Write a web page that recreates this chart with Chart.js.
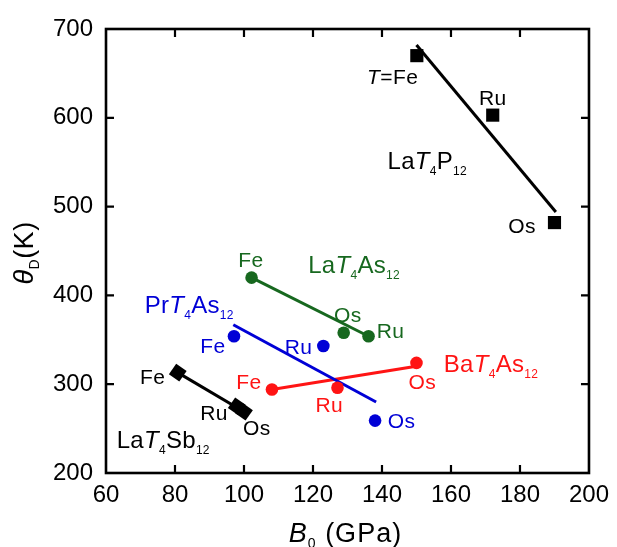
<!DOCTYPE html>
<html><head><meta charset="utf-8">
<script src="https://cdn.jsdelivr.net/npm/chart.js@4.4.0/dist/chart.umd.min.js"></script>
<style>html,body{margin:0;padding:0;background:#fff;}#wrap{width:617px;height:547px;}</style>
</head><body><div id="wrap"><canvas id="c" width="617" height="547"></canvas></div>
<script>
// ---- data ----
const xTickValues = [60, 80, 100, 120, 140, 160, 180, 200];
const yTickValues = [200, 300, 400, 500, 600, 700];

// LaT4P12 (T = Fe, Ru, Os)
const laP_B = [150.1, 172.1, 190.0];
const laP_T = [670, 603, 482];
const laP_fitB = [150.0, 190.4];
const laP_fitT = [682, 494];

// LaT4As12 (Fe, Os, Ru)
const laAs_B = [102.2, 128.9, 136.1];
const laAs_T = [420, 358, 354];
const laAs_fitB = [102.2, 136.1];
const laAs_fitT = [420, 354];

// PrT4As12 (Fe, Ru, Os)
const prAs_B = [97.1, 123.0, 138.0];
const prAs_T = [354, 343, 259];
const prAs_fitB = [96.9, 138.3];
const prAs_fitT = [367, 280];

// BaT4As12 (Fe, Ru, Os)
const baAs_B = [108.1, 127.1, 150.0];
const baAs_T = [294, 296, 324];
const baAs_fitB = [108.1, 149.5];
const baAs_fitT = [294, 320];

// LaT4Sb12 (Fe, Ru, Os)
const laSb_B = [80.8, 97.9, 100.0];
const laSb_T = [313, 275, 269];
const laSb_fitB = [80.8, 100.0];
const laSb_fitT = [313, 269];

const BLACK = '#000000', GREEN = '#17681f', BLUE = '#0000d6', RED = '#ff1414';

const pts = (bx, ty) => bx.map((b, i) => ({x: b, y: ty[i]}));

// ---- annotation labels (anchored in data units) ----
const annotations = [
  {segs: [['T', 'i'], ['=Fe']], x: 143.1, y: 646, color: BLACK, size: 21, align: 'center'},
  {segs: [['Ru']], x: 172.1, y: 623, color: BLACK, size: 21, align: 'center'},
  {segs: [['Os']], x: 180.6, y: 479, color: BLACK, size: 21, align: 'center'},
  {segs: [['La'], ['T', 'i'], ['4', 's'], ['P'], ['12', 's']], x: 141.6, y: 552, color: BLACK, size: 24, align: 'left'},

  {segs: [['Fe']], x: 102.0, y: 441, color: GREEN, size: 21, align: 'center'},
  {segs: [['Os']], x: 130.1, y: 378, color: GREEN, size: 21, align: 'center'},
  {segs: [['Ru']], x: 142.5, y: 360, color: GREEN, size: 21, align: 'center'},
  {segs: [['La'], ['T', 'i'], ['4', 's'], ['As'], ['12', 's']], x: 118.6, y: 434.6, color: GREEN, size: 24, align: 'left'},

  {segs: [['Fe']], x: 91.0, y: 344, color: BLUE, size: 21, align: 'center'},
  {segs: [['Ru']], x: 115.8, y: 343, color: BLUE, size: 21, align: 'center'},
  {segs: [['Os']], x: 145.7, y: 259.7, color: BLUE, size: 21, align: 'center'},
  {segs: [['Pr'], ['T', 'i'], ['4', 's'], ['As'], ['12', 's']], x: 71.2, y: 389.6, color: BLUE, size: 24, align: 'left'},

  {segs: [['Fe']], x: 101.4, y: 302.5, color: RED, size: 21, align: 'center'},
  {segs: [['Ru']], x: 124.7, y: 276.6, color: RED, size: 21, align: 'center'},
  {segs: [['Os']], x: 151.7, y: 302.5, color: RED, size: 21, align: 'center'},
  {segs: [['Ba'], ['T', 'i'], ['4', 's'], ['As'], ['12', 's']], x: 157.9, y: 323.5, color: RED, size: 24, align: 'left'},

  {segs: [['Fe']], x: 73.5, y: 309.2, color: BLACK, size: 21, align: 'center'},
  {segs: [['Ru']], x: 91.3, y: 268.7, color: BLACK, size: 21, align: 'center'},
  {segs: [['Os']], x: 103.7, y: 250.7, color: BLACK, size: 21, align: 'center'},
  {segs: [['La'], ['T', 'i'], ['4', 's'], ['Sb'], ['12', 's']], x: 63.1, y: 237.5, color: BLACK, size: 24, align: 'left'}
];

const FAM = "'Liberation Sans', Arial, Helvetica, sans-serif";

function drawRich(ctx, segs, x, y, align, color, size, subSize, subDrop, spacing) {
  const items = segs.map(s => ({t: s[0], i: s[1] === 'i', s: s[1] === 's'}));
  const font = it => (it.i ? 'italic ' : '') + (it.s ? subSize : size) + 'px ' + FAM;
  ctx.letterSpacing = (spacing || 0) + 'px';
  let w = 0;
  items.forEach(it => { ctx.font = font(it); it.w = ctx.measureText(it.t).width; w += it.w; });
  let cx = align === 'center' ? x - w / 2 : x;
  const base = y + size * 0.716 / 2;
  ctx.fillStyle = color;
  ctx.textAlign = 'left';
  ctx.textBaseline = 'alphabetic';
  items.forEach(it => {
    ctx.font = font(it);
    ctx.fillText(it.t, cx, it.s ? base + subDrop : base);
    cx += it.w;
  });
  ctx.letterSpacing = '0px';
}

const decor = {
  id: 'decor',
  afterDraw(chart) {
    const ctx = chart.ctx, a = chart.chartArea;
    const xs = chart.scales.x, ys = chart.scales.y;
    ctx.save();
    // frame
    ctx.strokeStyle = '#000';
    ctx.lineWidth = 2.6;
    ctx.strokeRect(a.left, a.top, a.right - a.left, a.bottom - a.top);
    // inward ticks
    ctx.lineWidth = 2.2;
    ctx.beginPath();
    xTickValues.forEach(v => {
      if (v === xs.min || v === xs.max) return;
      const px = xs.getPixelForValue(v);
      ctx.moveTo(px, a.bottom); ctx.lineTo(px, a.bottom - 8);
      ctx.moveTo(px, a.top); ctx.lineTo(px, a.top + 8);
    });
    yTickValues.forEach(v => {
      if (v === ys.min || v === ys.max) return;
      const py = ys.getPixelForValue(v);
      ctx.moveTo(a.left, py); ctx.lineTo(a.left + 8, py);
      ctx.moveTo(a.right, py); ctx.lineTo(a.right - 8, py);
    });
    ctx.stroke();
    // annotations
    annotations.forEach(an => {
      drawRich(ctx, an.segs, xs.getPixelForValue(an.x), ys.getPixelForValue(an.y),
        an.align, an.color, an.size, 12, 6, an.size >= 24 ? 0.3 : 0.4);
    });
    // axis titles
    drawRich(ctx, [['B', 'i'], ['0', 's'], [' (GPa)']], (a.left + a.right) / 2 - 2, 532, 'center', '#000', 27, 14, 6, 1);
    ctx.translate(23, (a.top + a.bottom) / 2 + 2);
    ctx.rotate(-Math.PI / 2);
    drawRich(ctx, [['\u03B8', 'i'], ['D', 's'], ['(K)']], 0, 0, 'center', '#000', 27, 14, 6, 0.5);
    ctx.restore();
  }
};

const lineDs = (bx, ty, color) => ({
  data: pts(bx, ty), showLine: true, borderColor: color, borderWidth: 3,
  pointRadius: 0, fill: false, order: 2
});
const pointDs = (bx, ty, color, style, r, rot) => ({
  data: pts(bx, ty), showLine: false, pointStyle: style, pointRadius: r,
  pointRotation: rot || 0,
  backgroundColor: color, borderColor: color, borderWidth: 0, order: 1
});

new Chart(document.getElementById('c'), {
  type: 'scatter',
  data: {
    datasets: [
      lineDs(laP_fitB, laP_fitT, BLACK),
      lineDs(laAs_fitB, laAs_fitT, GREEN),
      lineDs(prAs_fitB, prAs_fitT, BLUE),
      lineDs(baAs_fitB, baAs_fitT, RED),
      lineDs(laSb_fitB, laSb_fitT, BLACK),
      pointDs(laP_B, laP_T, BLACK, 'rect', 9.3),
      pointDs(laAs_B, laAs_T, GREEN, 'circle', 6.3),
      pointDs(prAs_B, prAs_T, BLUE, 'circle', 6.3),
      pointDs(baAs_B, baAs_T, RED, 'circle', 6.3),
      pointDs(laSb_B, laSb_T, BLACK, 'rect', 9, 35)
    ]
  },
  options: {
    responsive: false,
    animation: false,
    events: [],
    layout: {padding: {left: 0, right: 24, top: 29, bottom: 0}},
    plugins: {legend: {display: false}, tooltip: {enabled: false}},
    scales: {
      x: {
        type: 'linear', min: 60, max: 200,
        grid: {display: false, drawTicks: false},
        border: {display: false},
        afterBuildTicks: s => { s.ticks = xTickValues.map(v => ({value: v})); },
        afterFit: s => { s.height = 74; },
        ticks: {color: '#000', font: {family: FAM, size: 24}, padding: 8, maxRotation: 0, autoSkip: false}
      },
      y: {
        type: 'linear', min: 200, max: 700,
        grid: {display: false, drawTicks: false},
        border: {display: false},
        afterBuildTicks: s => { s.ticks = yTickValues.map(v => ({value: v})); },
        afterFit: s => { s.width = 106; },
        ticks: {color: '#000', font: {family: FAM, size: 24}, padding: 13, autoSkip: false}
      }
    }
  },
  plugins: [decor]
});
</script>
</body></html>
